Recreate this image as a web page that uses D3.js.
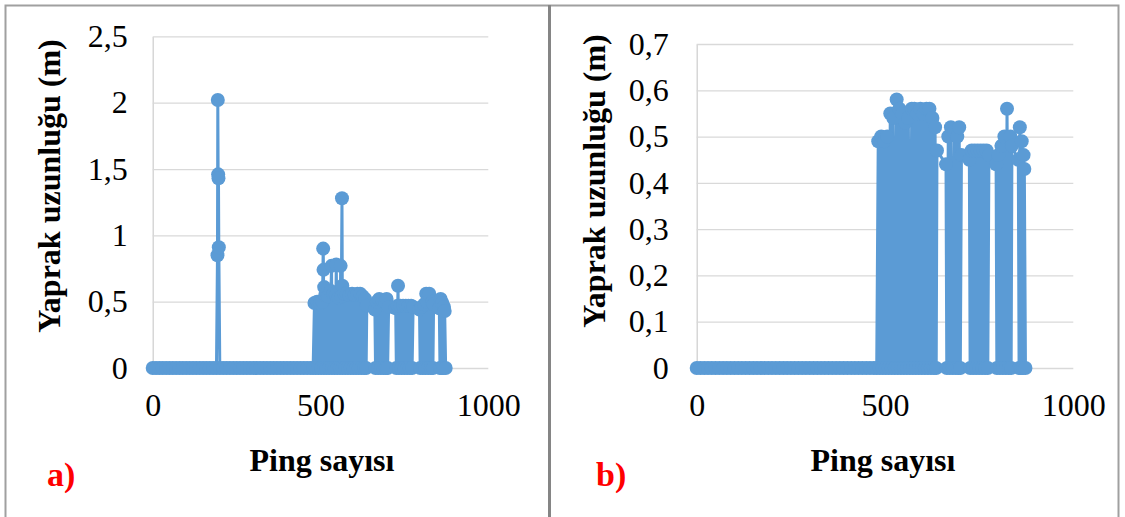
<!DOCTYPE html>
<html>
<head>
<meta charset="utf-8">
<script src="https://cdn.jsdelivr.net/npm/d3@7"></script>
<style>
  body { margin: 0; background: #fff; }
  svg { display: block; }
  text { font-family: "Liberation Serif", "Times New Roman", serif; }
</style>
</head>
<body>
<svg id="chart" width="1125" height="517"></svg>
<script>
// tick labels
const xTicks = [0, 500, 1000];
const yTicksA = [0, 0.5, 1, 1.5, 2, 2.5];
const yTicksB = [0, 0.1, 0.2, 0.3, 0.4, 0.5, 0.6, 0.7];

// pings with zero leaf length before the leaves appear
const zeroPings = [0, 10, 20, 30, 40, 50, 60, 70, 80, 90, 100, 110, 120, 130, 140, 150, 160, 170, 180, 190,
    200, 210, 220, 230, 240, 250, 260, 270, 280, 290, 300, 310, 320, 330, 340, 350, 360, 370, 380, 390,
    400, 410, 420, 430, 440, 450, 460, 470];

// [ping, leaf length (m)] — filtered series (chart b)
const leafPings = [
    [478, 0], [482, 0.49], [486, 0], [490, 0.50], [494, 0], [498, 0.49], [502, 0], [506, 0.50],
    [510, 0], [514, 0.55], [518, 0], [522, 0.54], [526, 0], [531, 0.58], [534, 0], [538, 0.56],
    [542, 0], [546, 0.55], [550, 0], [554, 0.53], [558, 0], [562, 0.54], [566, 0], [571, 0.56],
    [574, 0], [578, 0.56], [582, 0], [586, 0.55], [590, 0], [594, 0.56], [598, 0], [602, 0.55],
    [606, 0], [610, 0.56], [614, 0], [618, 0.56], [622, 0], [626, 0.54], [630, 0], [633, 0.52],
    [636, 0], [638, 0.47], [662, 0.44], [664, 0], [668, 0.50], [672, 0], [675, 0.52], [680, 0],
    [684, 0.51], [688, 0], [692, 0.50], [695, 0], [697, 0.52], [700, 0], [703, 0.46], [724, 0.45],
    [726, 0], [730, 0.47], [734, 0], [738, 0.47], [742, 0], [746, 0.47], [750, 0], [754, 0.47],
    [758, 0], [762, 0.47], [766, 0], [770, 0.47], [773, 0], [776, 0.46], [795, 0.44], [797, 0],
    [801, 0.46], [805, 0], [809, 0.48], [813, 0], [817, 0.50], [821, 0], [824, 0.56], [829, 0],
    [833, 0.50], [835, 0], [837, 0.48], [854, 0.45], [856, 0], [858, 0.52], [861, 0], [863, 0.49],
    [866, 0], [868, 0.46], [870, 0.43], [873, 0]
];

// extra raw readings shown only in chart a
const spikeA = [[193, 0.85], [194, 2.02], [195, 1.46], [196, 1.43], [197, 0.91]];
const outliersA = [[508, 0.90], [509, 0.74], [511, 0.61], [533, 0.77], [547, 0.78], [560, 0.77],
    [564, 1.28], [565, 0.62], [731, 0.62], [815, 0.56]];

const seriesB = zeroPings.map(p => [p, 0]).concat(leafPings);
const seriesA = zeroPings.map(p => [p, 0]).concat(spikeA, leafPings, outliersA)
    .map((d, i) => ({ d, i }))
    .sort((a, b) => a.d[0] - b.d[0] || a.i - b.i)
    .map(o => o.d);

const svg = d3.select("#chart");
const blue = "#5b9bd5";
const commaFmt = d3.formatLocale({ decimal: ",", thousands: ".", grouping: [3], currency: ["", ""] }).format("~g");

// frame
svg.append("rect")
    .attr("x", 5.5).attr("y", 5.5).attr("width", 1113).attr("height", 530)
    .attr("fill", "none").attr("stroke", "#a0a0a0").attr("stroke-width", 2);
svg.append("line")
    .attr("x1", 549.5).attr("x2", 549.5).attr("y1", 5).attr("y2", 517)
    .attr("stroke", "#858585").attr("stroke-width", 3);

function drawPanel(cfg) {
    const x = d3.scaleLinear().domain([0, 1000]).range([cfg.left, cfg.right]);
    const y = d3.scaleLinear().domain([0, cfg.ymax]).range([cfg.bottom, cfg.top]);
    const w = cfg.right - cfg.left;

    const gy = svg.append("g")
        .attr("transform", `translate(${cfg.left},0)`)
        .call(d3.axisLeft(y).tickValues(cfg.yTicks).tickFormat(commaFmt)
            .tickSize(-w).tickSizeOuter(0).tickPadding(cfg.yPad));
    gy.select(".domain").attr("stroke", "#d0d0d0").attr("stroke-width", 1.3);
    gy.selectAll(".tick line").attr("stroke", "#d9d9d9").attr("stroke-width", 1.3);
    gy.selectAll(".tick text").attr("font-size", 32).attr("fill", "#000")
        .attr("font-family", "Liberation Serif");

    const gx = svg.append("g")
        .attr("transform", `translate(0,${cfg.bottom})`)
        .call(d3.axisBottom(x).tickValues(xTicks).tickFormat(d3.format("d")).tickSize(0).tickPadding(25));
    gx.select(".domain").remove();
    gx.selectAll(".tick text").attr("font-size", 32).attr("fill", "#000")
        .attr("font-family", "Liberation Serif");

    const line = d3.line().x(d => x(d[0])).y(d => y(d[1]));
    svg.append("path")
        .datum(cfg.data)
        .attr("fill", "none")
        .attr("stroke", blue)
        .attr("stroke-width", 3)
        .attr("stroke-linejoin", "round")
        .attr("d", line);

    svg.append("g").selectAll("circle")
        .data(cfg.data)
        .join("circle")
        .attr("cx", d => x(d[0]))
        .attr("cy", d => y(d[1]))
        .attr("r", 7)
        .attr("fill", blue);

    svg.append("text")
        .attr("x", cfg.titleX).attr("y", 471)
        .attr("text-anchor", "middle")
        .attr("font-size", 32).attr("font-weight", "bold")
        .text("Ping sayısı");

    svg.append("text")
        .attr("transform", `translate(${cfg.yTitleX},${cfg.yTitleY}) rotate(-90)`)
        .attr("text-anchor", "middle")
        .attr("font-size", 32).attr("font-weight", "bold")
        .text("Yaprak uzunluğu (m)");

    svg.append("text")
        .attr("x", cfg.tagX).attr("y", 486)
        .attr("font-size", 34).attr("font-weight", "bold")
        .attr("fill", "#ff0000")
        .text(cfg.tag);
}

drawPanel({
    data: seriesA, ymax: 2.5, yTicks: yTicksA,
    left: 152.7, right: 488.3, top: 36.4, bottom: 368, yPad: 25,
    titleX: 322, yTitleX: 60, yTitleY: 186, tagX: 47, tag: "a)"
});

drawPanel({
    data: seriesB, ymax: 0.7, yTicks: yTicksB,
    left: 696.7, right: 1073.3, top: 44, bottom: 368, yPad: 28,
    titleX: 883, yTitleX: 605, yTitleY: 181, tagX: 596, tag: "b)"
});
</script>
</body>
</html>
